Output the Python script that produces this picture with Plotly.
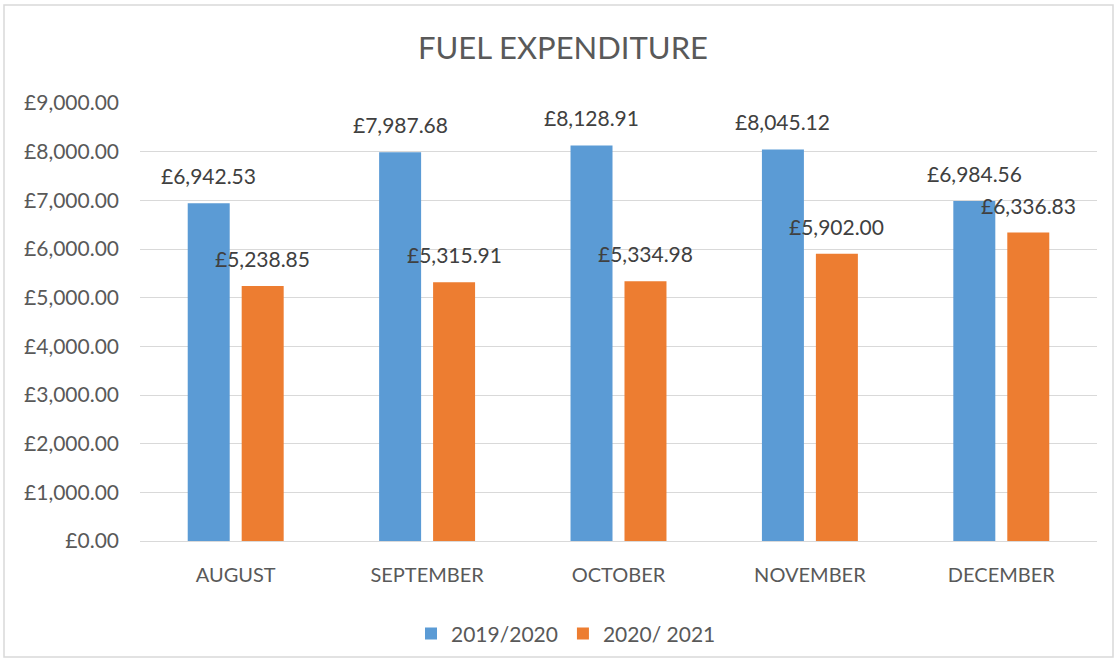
import plotly.graph_objects as go

months = ["AUGUST", "SEPTEMBER", "OCTOBER", "NOVEMBER", "DECEMBER"]
series_names = ["2019/2020", "2020/ 2021"]
values_1920 = [6942.53, 7987.68, 8128.91, 8045.12, 6984.56]
values_2021 = [5238.85, 5315.91, 5334.98, 5902.00, 6336.83]
y_ticks = [0, 1000, 2000, 3000, 4000, 5000, 6000, 7000, 8000, 9000]

BLUE = "#5B9BD5"
ORANGE = "#ED7D31"
TXT = "#595959"
FONT = "Lato, 'Open Sans', sans-serif"

W, H = 1117, 666
ML, MR, MT, MB = 140, 20, 103, 121

fig = go.Figure()
fig.add_trace(go.Bar(name=series_names[0], x=months, y=values_1920,
                     marker=dict(color=BLUE, line=dict(width=0))))
fig.add_trace(go.Bar(name=series_names[1], x=months, y=values_2021,
                     marker=dict(color=ORANGE, line=dict(width=0))))

fmt = lambda v: "£{:,.2f}".format(v)
annos = []
for vals, shift in ((values_1920, -27), (values_2021, 27)):
    for m, v in zip(months, vals):
        annos.append(dict(x=m, y=v, xref="x", yref="y", text=fmt(v), showarrow=False,
                          xshift=shift, yshift=13, yanchor="bottom",
                          font=dict(family=FONT, size=21, color="#404040")))

pw = W - ML - MR
ph = H - MT - MB
fig.update_layout(
    width=W, height=H,
    margin=dict(l=ML, r=MR, t=MT, b=MB),
    paper_bgcolor="white", plot_bgcolor="white",
    barmode="group", bargap=0.436, bargroupgap=0.222,
    title=dict(text="FUEL EXPENDITURE", x=0.504, xanchor="center", y=0.927, yanchor="middle",
               font=dict(family=FONT, size=31, color=TXT)),
    font=dict(family=FONT, color=TXT),
    xaxis=dict(showgrid=False, showline=True, linecolor="#D9D9D9", linewidth=1,
               tickfont=dict(size=20, color=TXT), ticks="", ticklabelstandoff=16),
    yaxis=dict(range=[0, 9000], tickvals=y_ticks, ticktext=[fmt(t) for t in y_ticks],
               showgrid=True, gridcolor="#D9D9D9", gridwidth=1, zeroline=False,
               showline=False, ticks="", tickfont=dict(size=21, color=TXT),
               ticklabelstandoff=20),
    legend=dict(orientation="h", x=(411 - ML) / pw, xanchor="left", y=-0.165, yanchor="top",
                font=dict(size=21, color=TXT), itemwidth=30, traceorder="normal"),
    annotations=annos,
    shapes=[dict(type="rect", xref="paper", yref="paper",
                 x0=(4 - ML) / pw, x1=(W - 4 - ML) / pw,
                 y0=-(H - 4 - MT - ph) / ph, y1=1 + (MT - 4) / ph,
                 line=dict(color="#D9D9D9", width=1.5), fillcolor="rgba(0,0,0,0)", layer="below")],
)

fig.write_html("out.html")
